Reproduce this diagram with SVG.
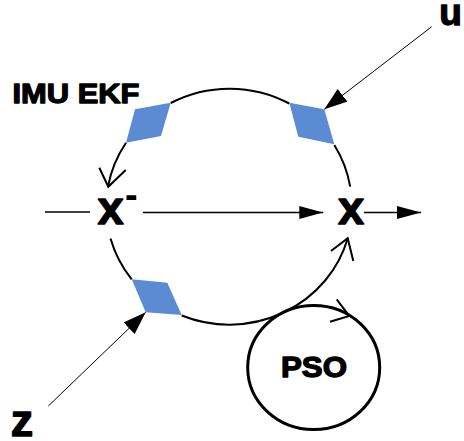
<svg xmlns="http://www.w3.org/2000/svg" width="464" height="441" viewBox="0 0 464 441">
<style>
.lbl{font-family:"Liberation Sans",Arial,sans-serif;font-weight:bold;fill:#000;stroke:#000;stroke-width:1.3;stroke-linejoin:round}
.arc{fill:none;stroke:#000;stroke-width:2}
.chev{fill:none;stroke:#000;stroke-width:2;stroke-linejoin:miter}
.ln{fill:none;stroke:#000;stroke-width:1.5}
.thin{fill:none;stroke:#000;stroke-width:1}
.dia{fill:#5B8BD3;stroke:none}
</style>
<defs>
<marker id="tri" viewBox="0 0 24 13" refX="24" refY="6.5" markerWidth="24" markerHeight="13" markerUnits="userSpaceOnUse" orient="auto"><path d="M0,0 L24,6.5 L0,13 Z" fill="#000"/></marker>
<marker id="tri2" viewBox="0 0 23 16" refX="23" refY="8" markerWidth="23" markerHeight="16" markerUnits="userSpaceOnUse" orient="auto"><path d="M0,0 L23,8 L0,16 Z" fill="#000"/></marker>
</defs>
<rect width="464" height="441" fill="#fff"/>
<g id="connectors">
<path class="arc" d="M170.7,103 A123,118 0 0 1 289.3,103.5"/>
<path class="arc" d="M334.3,145 A123,118 0 0 1 350.2,186.7"/>
<path class="arc" d="M126,142.7 A123,118 0 0 0 108,186.7"/>
<path class="arc" d="M110.5,238.5 A123,118 0 0 0 131.7,279.3"/>
<path class="arc" d="M181.7,315.5 A123,118 0 0 0 347.8,238"/>
<polyline class="chev" points="99.3,167.7 108.3,186.7 125.7,170"/>
<polyline class="chev" points="331,251 347.7,238.3 353.3,261"/>
<line class="ln" x1="45" y1="212" x2="90" y2="212"/>
<line class="ln" x1="143" y1="212.5" x2="323.3" y2="212.5" marker-end="url(#tri)"/>
<line class="ln" x1="364" y1="212.5" x2="421" y2="212.5" marker-end="url(#tri)"/>
<line class="thin" x1="431.7" y1="26.7" x2="324.3" y2="109.3" marker-end="url(#tri2)"/>
<line class="thin" x1="48.3" y1="406" x2="145.7" y2="312.3" marker-end="url(#tri2)"/>
</g>
<g id="diamond-ul"><polygon class="dia" points="135,109.3 170.7,102.7 161,136 126,142.7"/></g>
<g id="diamond-ur"><polygon class="dia" points="289.3,102.7 324.3,109.3 334.3,144.3 298.3,136.7"/></g>
<g id="diamond-bl"><polygon class="dia" points="131.7,279.3 167.3,282.7 181.7,315 145.7,312.3"/></g>
<g id="pso">
<ellipse cx="313.7" cy="367.5" rx="66" ry="62" fill="none" stroke="#000" stroke-width="3"/>
<polyline class="chev" points="336.7,299.3 349.3,316 330,321.7"/>
<text class="lbl" x="281" y="376.7" font-size="29" textLength="66" lengthAdjust="spacingAndGlyphs">PSO</text>
</g>
<g id="imu-ekf"><text class="lbl" x="12.5" y="102.5" font-size="28.5" textLength="127" lengthAdjust="spacingAndGlyphs">IMU EKF</text></g>
<g id="x-minus"><text class="lbl" x="97.5" y="223.5" font-size="47">x<tspan x="125" y="208" font-size="38" stroke="none">-</tspan></text></g>
<g id="x"><text class="lbl" x="351" y="223.5" font-size="47" text-anchor="middle">x</text></g>
<g id="u"><text class="lbl" x="450.5" y="24.5" font-size="37" text-anchor="middle">u</text></g>
<g id="z"><text class="lbl" x="22" y="436" font-size="45" text-anchor="middle">z</text></g>
</svg>
